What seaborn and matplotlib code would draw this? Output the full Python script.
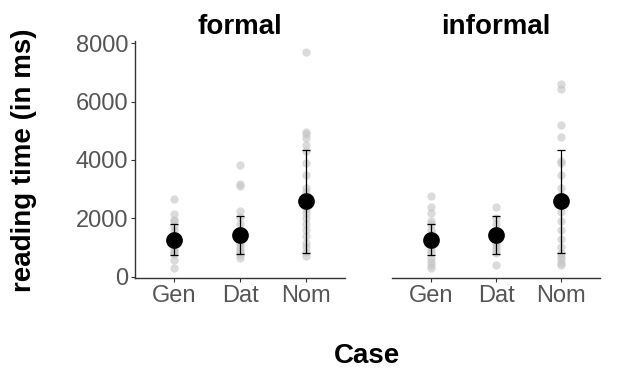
import matplotlib
matplotlib.use("Agg")
import matplotlib.pyplot as plt
import seaborn as sns
import pandas as pd

sns.set_style("white")
plt.rcParams["font.family"] = ["Liberation Sans", "DejaVu Sans"]
plt.rcParams["text.color"] = "black"

cases = ["Gen", "Dat", "Nom"]
registers = ["formal", "informal"]

# raw reading times (ms)
formal_gen = [2650, 2150, 1950, 1890, 1750, 1600, 1450, 1300, 1200, 1100, 1000, 920, 850, 780, 580, 300]
formal_dat = [3830, 3180, 3100, 2260, 2050, 1800, 1600, 1450, 1300, 1200, 1100, 1000, 920, 850, 750, 640]
formal_nom = [7700, 4970, 4900, 4740, 4510, 4300, 3900, 3500, 3050, 2900, 2700, 2500, 2300, 2180,
              2000, 1800, 1600, 1400, 1150, 1000, 850, 700]
informal_gen = [2780, 2380, 2180, 1900, 1800, 1600, 1450, 1300, 1200, 1100, 1000, 900, 800, 650, 500, 400, 300]
informal_dat = [2380, 2000, 1800, 1600, 1500, 1400, 1300, 1200, 1100, 1000, 900, 800, 410]
informal_nom = [6590, 6420, 5200, 4770, 3970, 3900, 3500, 3050, 2800, 2500, 2200, 1900, 1600, 1300,
                1000, 800, 700, 600, 480, 400]

# summary: means and standard deviations
formal_mean = [1265, 1413, 2575]
formal_sd = [540, 655, 1760]
informal_mean = [1265, 1413, 2575]
informal_sd = [540, 655, 1760]

yticks = [0, 2000, 4000, 6000, 8000]

raw = {
    "formal": [formal_gen, formal_dat, formal_nom],
    "informal": [informal_gen, informal_dat, informal_nom],
}
summ = {
    "formal": (formal_mean, formal_sd),
    "informal": (informal_mean, informal_sd),
}

W, H = 641, 379
fig = plt.figure(figsize=(W / 100, H / 100), dpi=100)
fig.patch.set_facecolor("white")

panels = {"formal": (135, 345), "informal": (392, 600)}
top, bottom = 41, 278
tick_col = "#555555"

for reg in registers:
    l, r = panels[reg]
    ax = fig.add_axes([l / W, 1 - bottom / H, (r - l) / W, (bottom - top) / H])
    rows = []
    for c, vals in zip(cases, raw[reg]):
        for v in vals:
            rows.append({"case": c, "rt": v})
    df = pd.DataFrame(rows)
    sns.stripplot(data=df, x="case", y="rt", order=cases, jitter=False, color="#c4c4c4",
                  alpha=0.6, size=6, linewidth=0, ax=ax, zorder=1)
    m, sd = summ[reg]
    sdf = pd.DataFrame({"case": cases, "mean": m, "sd": sd})
    ax.errorbar(x=range(len(cases)), y=sdf["mean"], yerr=sdf["sd"], fmt="none",
                ecolor="black", elinewidth=0.9, capsize=3, capthick=0.9, zorder=2)
    sns.pointplot(data=sdf, x="case", y="mean", order=cases, color="black", linestyle="none",
                  markersize=10, errorbar=None, ax=ax, zorder=3)
    ax.set_xlim(-0.6, 2.6)
    ax.set_ylim(-50, 8080)
    ax.set_xlabel("")
    ax.set_ylabel("")
    ax.set_title(reg, fontsize=20, fontweight="bold", pad=5, color="black")
    for s in ["top", "right"]:
        ax.spines[s].set_visible(False)
    ax.spines["bottom"].set_color("#333333")
    ax.spines["bottom"].set_linewidth(1.0)
    ax.tick_params(axis="x", colors="#333333", labelcolor=tick_col, labelsize=17,
                   length=3, width=0.8, pad=2, bottom=True)
    if reg == "formal":
        ax.spines["left"].set_color("#333333")
        ax.spines["left"].set_linewidth(1.0)
        ax.set_yticks(yticks)
        ax.tick_params(axis="y", colors="#333333", labelcolor=tick_col, labelsize=17,
                       length=3, width=0.8, pad=2, left=True)
    else:
        ax.spines["left"].set_visible(False)
        ax.set_yticks([])
    ax.set_facecolor("white")

fig.text(367 / W, 1 - 356 / H, "Case", fontsize=20, fontweight="bold", ha="center", va="center",
         color="black")
fig.text(24 / W, 1 - 160 / H, "reading time (in ms)", fontsize=20, fontweight="bold",
         ha="center", va="center", rotation=90, color="black")

fig.savefig("out.png", dpi=100, facecolor="white")
